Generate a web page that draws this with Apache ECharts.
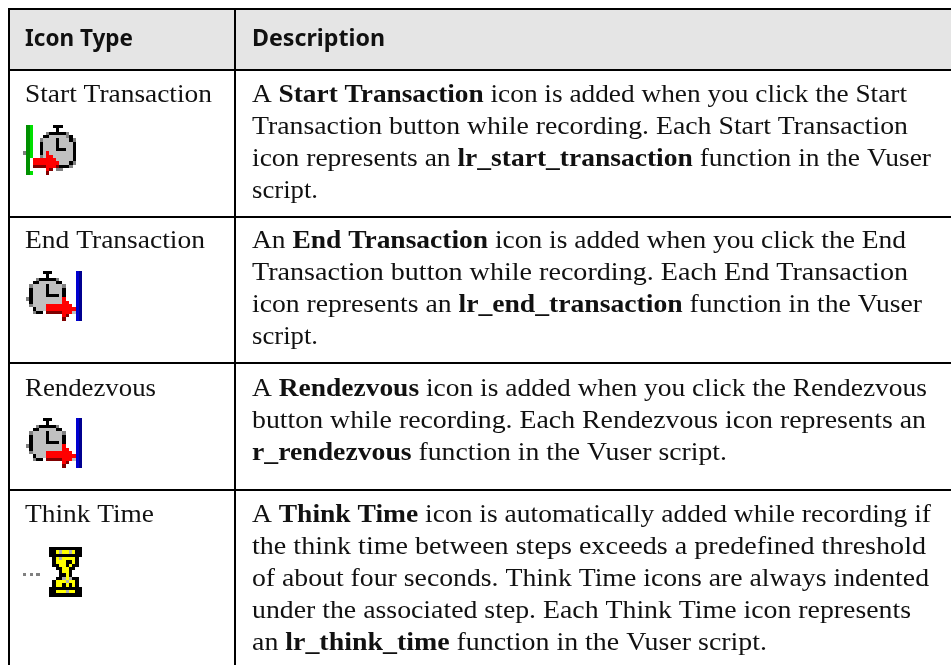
<!DOCTYPE html>
<html><head><meta charset="utf-8">
<style>html,body{margin:0;padding:0;background:#fff}#c{width:951px;height:665px}</style>
<script src="https://cdn.jsdelivr.net/npm/echarts@6/dist/echarts.min.js"></script>
</head><body><div id="c"></div>
<script>
const headers = ["Icon Type", "Description"];
const iconTypes = ["Start Transaction", "End Transaction", "Rendezvous", "Think Time"];
const descStart = ["A **Start Transaction** icon is added when you click the Start",
  "Transaction button while recording. Each Start Transaction",
  "icon represents an **lr_start_transaction** function in the Vuser",
  "script."];
const descEnd = ["An **End Transaction** icon is added when you click the End",
  "Transaction button while recording. Each End Transaction",
  "icon represents an **lr_end_transaction** function in the Vuser",
  "script."];
const descRendezvous = ["A **Rendezvous** icon is added when you click the Rendezvous",
  "button while recording. Each Rendezvous icon represents an",
  "**r_rendezvous** function in the Vuser script."];
const descThink = ["A **Think Time** icon is automatically added while recording if",
  "the think time between steps exceeds a predefined threshold",
  "of about four seconds. Think Time icons are always indented",
  "under the associated step. Each Think Time icon represents",
  "an **lr_think_time** function in the Vuser script."];
const descriptions = [descStart, descEnd, descRendezvous, descThink];

const iconStart = [
".NL......KKK....",
".NL.......K.....",
".NL....gKKKKKg..",
".NL...KKGGGGGgK.",
".NL..gGGGGKGGGKg",
".NL..KGGGGKGGGGK",
".NL..KGGGGKGGGGK",
".NL..KGGGGKKKGGK",
"gNL..KGRGGGGGGGK",
".NL..gGRRGGGGGGK",
".N.RRRRRRRGGGGGK",
".N.RRRRRRRRGGGKg",
".N.DDDDRRRDKKKg.",
".N.....RD.gg....",
".NL....D........"];
const iconEnd = [
".....KKK.......bd",
"......K........bd",
"...gKKKKKg.....bd",
"..KKGGGGGKK....bd",
".gGGGGKGGGGg...bd",
".KGGGGKGGGGK...bd",
".KGGGGKGGGGK...bd",
".KGGGGKKKKGK...bd",
"gKGGGGGGGGGR...bd",
".KGGGGGGGGGRR..bd",
".gGGGGRRRRRRRR.bd",
"..KGGGRRRRRRRRRbd",
"..gKK.DDDDDRRRGbd",
"...........RD..bd",
"...........D...bd"];
const iconThink = [
"KKKKKKKKKK",
"KKYsYYsYKK",
"KKKKKKKKKK",
".KYsYYYYK.",
".KYYYKKYK.",
".KKYYKYKK.",
"..KKYYKK..",
"...KYYK...",
"...KKYK...",
"..KKsYsKK.",
".KYYYsYYK.",
".KYYKYKYK.",
"KKKKKKKKKK",
"KKYYYsYYKK",
"KKKKKKKKKK"];
const iconDots = ["g.g.g"];
const iconColors = {K:"#000",G:"#c0c0c0",g:"#808080",N:"#009000",L:"#00e000",R:"#ff0000",D:"#800000",b:"#0000d0",d:"#000090",Y:"#ffff00",s:"#b0b0b0"};

/* layout */
const BORDER = "#000", TXT = "#111", HEAD_BG = "#e5e5e5";
const hLines = [8, 69, 216, 362, 489], vLines = [8, 234];
const headBase = [[25, 133], [252, 385]];
const typeRight = [212, 205, 156, 154];
const descBaseY = [102.5, 249, 396.5, 522.5];
const LEAD = 32;
const descRight = [[907,908,931,318],[906,908,922,318],[927,926,727],[931,926,929,911,767]];
const icons = [[iconStart,23,125],[iconEnd,26,271],[iconEnd,26,418],[iconThink,49,547]];
const CELL = 3.3;
const F_SERIF = '"Liberation Serif"', F_SANS = '"Noto Sans"', SIZE = 26;

const cv = document.createElement("canvas").getContext("2d");
function w(t, weight, fam, size){ cv.font = `${weight} ${size}px ${fam}`; return cv.measureText(t).width; }
function line(str, x, right, base, fam, size, allBold, k){
  const parts = str.split("**");
  let cx = 0; const kids = [];
  parts.forEach((p,i)=>{
    if(!p) return;
    const weight = (allBold || i%2===1) ? "bold" : "normal";
    kids.push({type:"text", x:cx, y:0, silent:true, style:{text:p, fill:TXT, font:`${weight} ${size}px ${fam}`, verticalAlign:"middle", align:"left"}});
    cx += w(p, weight, fam, size);
  });
  return {type:"group", x:x, y:base-size*k, scaleX:(right-x)/cx, children:kids};
}
function bitmap(rows, x0, y0, cell){
  const out=[];
  rows.forEach((row,r)=>{
    for(let c=0;c<row.length;c++){
      const col=iconColors[row[c]];
      if(!col) continue;
      const x=Math.round(x0+c*cell), y=Math.round(y0+r*cell);
      out.push({type:"rect", silent:true, shape:{x, y, width:Math.round(x0+(c+1)*cell)-x, height:Math.round(y0+(r+1)*cell)-y}, style:{fill:col}});
    }
  });
  return out;
}
const W=951,H=665,els=[];
els.push({type:"rect",silent:true,shape:{x:8,y:8,width:W-8,height:hLines[1]-8},style:{fill:HEAD_BG}});
hLines.forEach(y=>els.push({type:"rect",silent:true,shape:{x:8,y,width:W-8,height:2},style:{fill:BORDER}}));
vLines.forEach(x=>els.push({type:"rect",silent:true,shape:{x,y:8,width:2,height:H-8},style:{fill:BORDER}}));
headers.forEach((h,i)=>els.push(line(h,headBase[i][0],headBase[i][1],47.5,F_SANS,23,true,0.33)));
iconTypes.forEach((t,i)=>els.push(line(t,25,typeRight[i],descBaseY[i],F_SERIF,SIZE,false,0.29)));
descriptions.forEach((ls,i)=>ls.forEach((l,j)=>els.push(line(l,252,descRight[i][j],descBaseY[i]+j*LEAD,F_SERIF,SIZE,false,0.29))));
icons.forEach(([b,x,y])=>bitmap(b,x,y,CELL).forEach(e=>els.push(e)));
bitmap(iconDots,23,573,3.3).forEach(e=>els.push(e));
const chart=echarts.init(document.getElementById("c"),null,{renderer:"canvas"});
chart.setOption({animation:false,backgroundColor:"#fff",graphic:{elements:els}});
</script></body></html>
